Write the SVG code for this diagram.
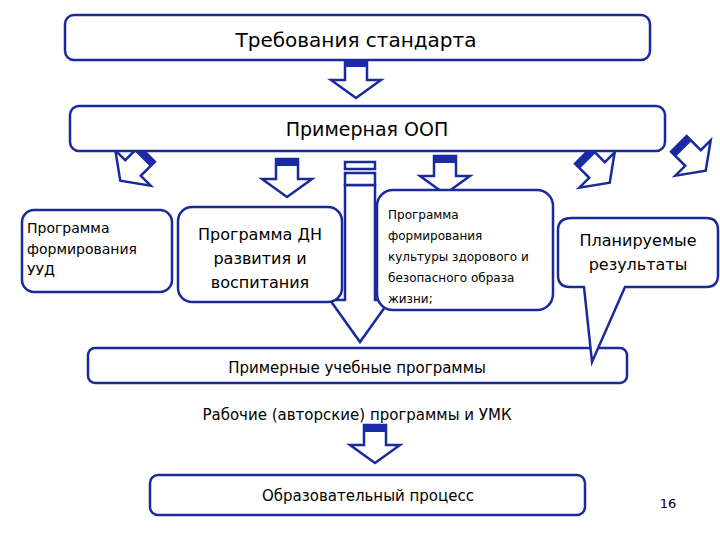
<svg xmlns="http://www.w3.org/2000/svg" xmlns:xlink="http://www.w3.org/1999/xlink" width="720" height="540" viewBox="0 0 720 540">
<style>
.box{fill:#fff;stroke:#1a2a9a;stroke-width:2.5}
.ar{fill:#fff;stroke:#1a2a9a;stroke-width:2.5;stroke-linejoin:miter}
.band{fill:#1a2aa8}
text{font-family:"DejaVu Sans","Noto Sans",sans-serif;fill:#000}
</style>
<defs>
<g id="arr">
<polygon class="ar" points="-11,-20 11,-20 11,0 25,0 0,18 -25,0 -11,0"/>
<rect class="band" x="-11" y="-20" width="22" height="7"/>
</g>
</defs>
<rect width="720" height="540" fill="#fff"/>
<g id="connectors">
<use xlink:href="#arr" transform="translate(356,80)"/>
<use xlink:href="#arr" transform="translate(287,179)"/>
<use xlink:href="#arr" transform="translate(445,176)"/>
<use xlink:href="#arr" transform="translate(133,168) rotate(45)"/>
<use xlink:href="#arr" transform="translate(597,170) rotate(-45)"/>
<use xlink:href="#arr" transform="translate(693,158) rotate(-45)"/>
<use xlink:href="#arr" transform="translate(375,445)"/>
<g>
<polygon class="ar" points="345,185 375,185 375,300 390,300 360,342 330,300 345,300"/>
<rect class="ar" x="345" y="162" width="30" height="7"/>
<rect class="ar" x="345" y="173" width="30" height="12"/>
</g>
</g>
<g id="n1"><rect class="box" x="65" y="15" width="585" height="45" rx="9"/><text x="356" y="47" font-size="20" text-anchor="middle">Требования стандарта</text></g>
<g id="n2"><rect class="box" x="70" y="106" width="595" height="45" rx="9"/><text x="367" y="136" font-size="19" text-anchor="middle">Примерная ООП</text></g>
<g id="n3"><rect class="box" x="22" y="210" width="150" height="82" rx="12"/><text font-size="14"><tspan x="27" y="233">Программа</tspan><tspan x="27" y="254">формирования</tspan><tspan x="27" y="275">УУД</tspan></text></g>
<g id="n4"><rect class="box" x="178" y="207" width="164" height="95" rx="14"/><text font-size="16" text-anchor="middle"><tspan x="260" y="240">Программа ДН</tspan><tspan x="260" y="264">развития и</tspan><tspan x="260" y="288">воспитания</tspan></text></g>
<g id="n5"><rect class="box" x="377" y="190" width="176" height="120" rx="16"/><text font-size="12"><tspan x="388" y="219">Программа</tspan><tspan x="388" y="240">формирования</tspan><tspan x="388" y="261">культуры здорового и</tspan><tspan x="388" y="282">безопасного образа</tspan><tspan x="388" y="303">жизни;</tspan></text></g>
<g id="n7"><rect class="box" x="88" y="348" width="539" height="35" rx="7"/><text x="357" y="373" font-size="15" text-anchor="middle">Примерные учебные программы</text></g>
<g id="n6"><path class="box" d="M572,218 H706 Q718,218 718,230 V275 Q718,287 706,287 H625 L592,362 L584,287 H570 Q558,287 558,275 V230 Q558,218 572,218 Z"/><text font-size="16" text-anchor="middle"><tspan x="638" y="246">Планируемые</tspan><tspan x="638" y="270">результаты</tspan></text></g>
<g id="n8"><text x="357" y="420" font-size="15" text-anchor="middle">Рабочие (авторские) программы и УМК</text></g>
<g id="n9"><rect class="box" x="150" y="475" width="435" height="40" rx="8"/><text x="368" y="501" font-size="15" text-anchor="middle">Образовательный процесс</text></g>
<text x="668" y="508" font-size="13" text-anchor="middle">16</text>
</svg>
